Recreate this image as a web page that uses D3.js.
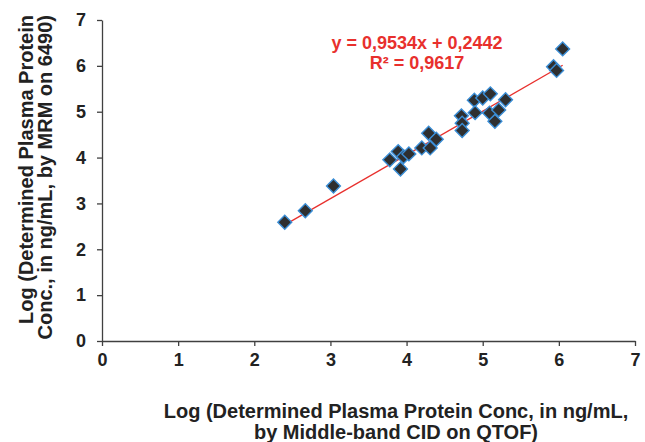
<!DOCTYPE html>
<html>
<head>
<meta charset="utf-8">
<script src="https://cdn.jsdelivr.net/npm/d3@7"></script>
<style>
  body { margin: 0; background: #fff; }
  svg text { font-family: "Liberation Sans", Arial, sans-serif; font-weight: bold; }
</style>
</head>
<body>
<svg id="chart" width="645" height="442"></svg>
<script>
// valores (log QTOF vs log MRM)
const qtofVals = [2.40, 2.67, 3.04, 3.78, 3.89, 3.92, 3.96, 4.03, 4.20, 4.31, 4.29, 4.39,
                  4.72, 4.73, 4.73, 4.89, 4.90, 5.00, 5.10, 5.09, 5.21, 5.16, 5.30, 5.93, 5.97, 6.05];
const mrmVals  = [2.59, 2.84, 3.38, 3.95, 4.13, 3.75, 4.02, 4.08, 4.21, 4.21, 4.53, 4.40,
                  4.91, 4.75, 4.59, 5.25, 4.98, 5.30, 5.39, 4.97, 5.04, 4.79, 5.26, 5.98, 5.90, 6.37];
const xTicks = [0, 1, 2, 3, 4, 5, 6, 7];
const yTicks = [0, 1, 2, 3, 4, 5, 6, 7];
const slope = 0.9534, intercept = 0.2442;
const eqLines = ["y = 0,9534x + 0,2442", "R² = 0,9617"];
const xTitle = ["Log (Determined Plasma Protein Conc, in ng/mL,", "by Middle-band CID on QTOF)"];
const yTitle = ["Log (Determined Plasma Protein", "Conc., in ng/mL, by MRM on 6490)"];

const svg = d3.select("#chart");
const margin = { top: 20, right: 10, bottom: 101, left: 102 };
const width = 635 - margin.left;
const height = 341 - margin.top;

const g = svg.append("g").attr("transform", `translate(${margin.left},${margin.top})`);

const x = d3.scaleLinear().domain([0, 7]).range([0, width]);
const y = d3.scaleLinear().domain([0, 7]).range([height, 0]);

// eixos
const xAxis = g.append("g")
    .attr("transform", `translate(0,${height})`)
    .call(d3.axisBottom(x).tickValues(xTicks).tickFormat(d3.format("d"))
      .tickSize(5).tickSizeOuter(0).tickPadding(7));
const yAxis = g.append("g")
    .call(d3.axisLeft(y).tickValues(yTicks).tickFormat(d3.format("d"))
      .tickSize(5).tickSizeOuter(0).tickPadding(11));

[xAxis, yAxis].forEach(a => {
  a.select(".domain").attr("stroke", "#404040").attr("stroke-width", 1.3);
  a.selectAll(".tick line").attr("stroke", "#404040").attr("stroke-width", 1.3);
  a.selectAll(".tick text").attr("fill", "#222").style("font-size", "18px");
});

// linha de tendência
const xr = d3.extent(qtofVals);
g.append("line")
    .attr("x1", x(xr[0])).attr("y1", y(slope * xr[0] + intercept))
    .attr("x2", x(xr[1])).attr("y2", y(slope * xr[1] + intercept))
    .attr("stroke", "#e8302d").attr("stroke-width", 1.3);

// pontos (losangos)
const diamond = d3.symbol().type(d3.symbolSquare).size(96);
g.selectAll(".pt")
  .data(qtofVals.map((v, i) => [v, mrmVals[i]]))
  .enter()
  .append("path")
    .attr("class", "pt")
    .attr("d", diamond)
    .attr("transform", d => `translate(${x(d[0])},${y(d[1])}) rotate(45)`)
    .attr("fill", "#2e2f30")
    .attr("stroke", "#3b8ed6")
    .attr("stroke-width", 1.4);

// equação
svg.selectAll(".eq")
  .data(eqLines)
  .enter()
  .append("text")
    .attr("x", 417)
    .attr("y", (d, i) => 49 + i * 20)
    .attr("text-anchor", "middle")
    .attr("fill", "#e8302d")
    .style("font-size", "18px")
    .text(d => d);

// títulos dos eixos
svg.selectAll(".xt")
  .data(xTitle)
  .enter()
  .append("text")
    .attr("x", 396)
    .attr("y", (d, i) => 418 + i * 21)
    .attr("text-anchor", "middle")
    .attr("fill", "#222")
    .style("font-size", "20px")
    .text(d => d);

svg.selectAll(".yt")
  .data(yTitle)
  .enter()
  .append("text")
    .attr("transform", (d, i) => `translate(${33 + i * 19},15) rotate(-90)`)
    .attr("text-anchor", "end")
    .attr("fill", "#222")
    .style("font-size", "20px")
    .text(d => d);
</script>
</body>
</html>
